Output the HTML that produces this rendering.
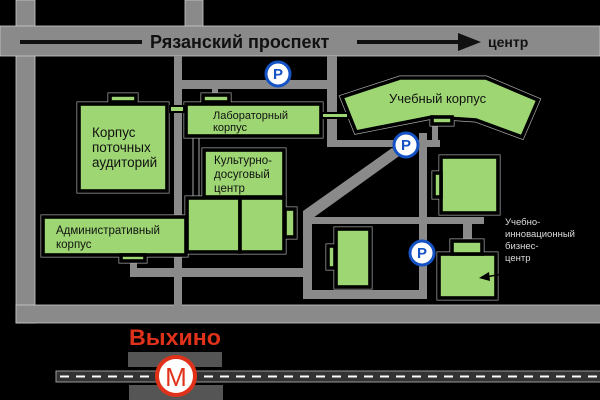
<!DOCTYPE html>
<html><head><meta charset="utf-8"><style>
html,body{margin:0;padding:0;background:#000;width:600px;height:400px;overflow:hidden;}
svg{display:block;}
text{font-family:"Liberation Sans",sans-serif;fill:#111;}
</style></head><body>
<svg width="600" height="400" viewBox="0 0 600 400">
<defs>
<g id="bld">
<rect x="79" y="104" width="88" height="87"/>
<rect x="110" y="95" width="26" height="7"/>
<rect x="186" y="104" width="135" height="32"/>
<rect x="203" y="95" width="26" height="7"/>
<polygon points="342,97 400,78 486,78 538,100 522,137 476,120 432,117 356,132"/>
<rect x="432" y="117" width="20" height="7"/>
<rect x="204" y="150" width="80" height="47"/>
<rect x="187" y="198" width="53" height="54"/>
<rect x="240" y="198" width="44" height="54"/>
<rect x="285" y="209" width="10" height="28"/>
<rect x="43" y="217" width="143" height="38"/>
<rect x="121" y="255" width="24" height="6"/>
<rect x="441" y="157" width="57" height="56"/>
<rect x="434" y="173" width="7" height="24"/>
<rect x="336" y="229" width="34" height="58"/>
<rect x="328" y="246" width="7" height="22"/>
<rect x="439" y="254" width="57" height="44"/>
<rect x="452" y="241" width="30" height="13"/>
</g>
</defs>
<rect width="600" height="400" fill="#000"/>
<g fill="#8a8a8a" stroke="#ccc" stroke-width="0.8">
<rect x="16" y="0" width="19" height="323"/>
<rect x="185" y="0" width="18" height="30"/>
<rect x="0" y="26" width="600" height="30"/>
<rect x="16" y="305" width="600" height="18"/>
</g>
<g fill="#8a8a8a">
<rect x="174" y="56" width="8" height="250"/>
<rect x="176" y="80" width="156" height="9"/>
<rect x="327" y="56" width="10" height="91"/>
<rect x="327" y="140" width="113" height="7"/>
<rect x="419" y="133" width="8" height="166"/>
<polygon points="392,148 402,154 313,218 303,211"/>
<rect x="303" y="211" width="9" height="88"/>
<rect x="303" y="217" width="181" height="7"/>
<rect x="303" y="290" width="124" height="9"/>
<rect x="130" y="268" width="180" height="9"/>
<rect x="130" y="255" width="7" height="20"/>
<rect x="463" y="222" width="9" height="20"/>
<rect x="212" y="86" width="6" height="9"/>
<rect x="432" y="122" width="6" height="20"/>
</g>
<rect x="193" y="137" width="6" height="60" fill="#000" stroke="#ccc" stroke-width="0.8"/>
<use href="#bld" fill="none" stroke="#aaa" stroke-width="5"/>
<use href="#bld" fill="#9dd672" stroke="#000" stroke-width="3.6"/>
<rect x="170" y="106" width="14" height="6" fill="#9dd672" stroke="#000" stroke-width="2"/>
<rect x="322" y="113" width="26" height="5" fill="#9dd672" stroke="#000" stroke-width="2"/>
<rect x="20" y="40" width="122" height="4" fill="#111"/>
<rect x="357" y="40" width="105" height="4" fill="#111"/>
<polygon points="458,33 481,42 458,51" fill="#111"/>
<text x="150" y="48" font-size="18" font-weight="bold">Рязанский проспект</text>
<text x="488" y="47" font-size="14" font-weight="bold">центр</text>
<g font-size="13.5">
<text x="92" y="137">Корпус</text>
<text x="92" y="152">поточных</text>
<text x="92" y="167">аудиторий</text>
<text x="213" y="119" font-size="11">Лабораторный</text>
<text x="213" y="131" font-size="11">корпус</text>
<text x="389" y="103" font-size="13">Учебный корпус</text>
<text x="214" y="164" font-size="11.5">Культурно-</text>
<text x="214" y="178" font-size="11.5">досуговый</text>
<text x="214" y="192" font-size="11.5">центр</text>
<text x="56" y="234" font-size="11.5">Административный</text>
<text x="56" y="248" font-size="11.5">корпус</text>
</g>
<g font-size="9.5">
<text x="505" y="225" style="fill:#ddd">Учебно-</text>
<text x="505" y="237" style="fill:#ddd">инновационный</text>
<text x="505" y="249" style="fill:#ddd">бизнес-</text>
<text x="505" y="261" style="fill:#ddd">центр</text>
</g>
<line x1="528" y1="269" x2="486" y2="277" stroke="#000" stroke-width="1.5"/>
<polygon points="479,278 489,272 490,281" fill="#000"/>
<g>
<circle cx="278" cy="74" r="12" fill="#fff" stroke="#1552c4" stroke-width="3"/>
<circle cx="406" cy="145" r="12" fill="#fff" stroke="#1552c4" stroke-width="3"/>
<circle cx="422" cy="253" r="12" fill="#fff" stroke="#1552c4" stroke-width="3"/>
<g font-size="15" font-weight="bold" text-anchor="middle">
<text x="278" y="79" style="fill:#1552c4">P</text>
<text x="406" y="150" style="fill:#1552c4">P</text>
<text x="422" y="258" style="fill:#1552c4">P</text>
</g>
</g>
<text x="129" y="345" font-size="22" font-weight="bold" textLength="92" lengthAdjust="spacingAndGlyphs" style="fill:#e0321a">Выхино</text>
<rect x="128" y="352" width="94" height="15" fill="#555"/>
<rect x="129" y="385" width="94" height="15" fill="#555"/>
<rect x="56" y="371" width="550" height="11" fill="#333" stroke="#999" stroke-width="1"/>
<line x1="60" y1="376.5" x2="600" y2="376.5" stroke="#fff" stroke-width="2" stroke-dasharray="9,7"/>
<ellipse cx="176" cy="376" rx="19" ry="19" fill="#fff" stroke="#e0321a" stroke-width="4"/>
<text x="176" y="386" font-size="26" text-anchor="middle" style="fill:#e0321a">M</text>
</svg>
</body></html>
